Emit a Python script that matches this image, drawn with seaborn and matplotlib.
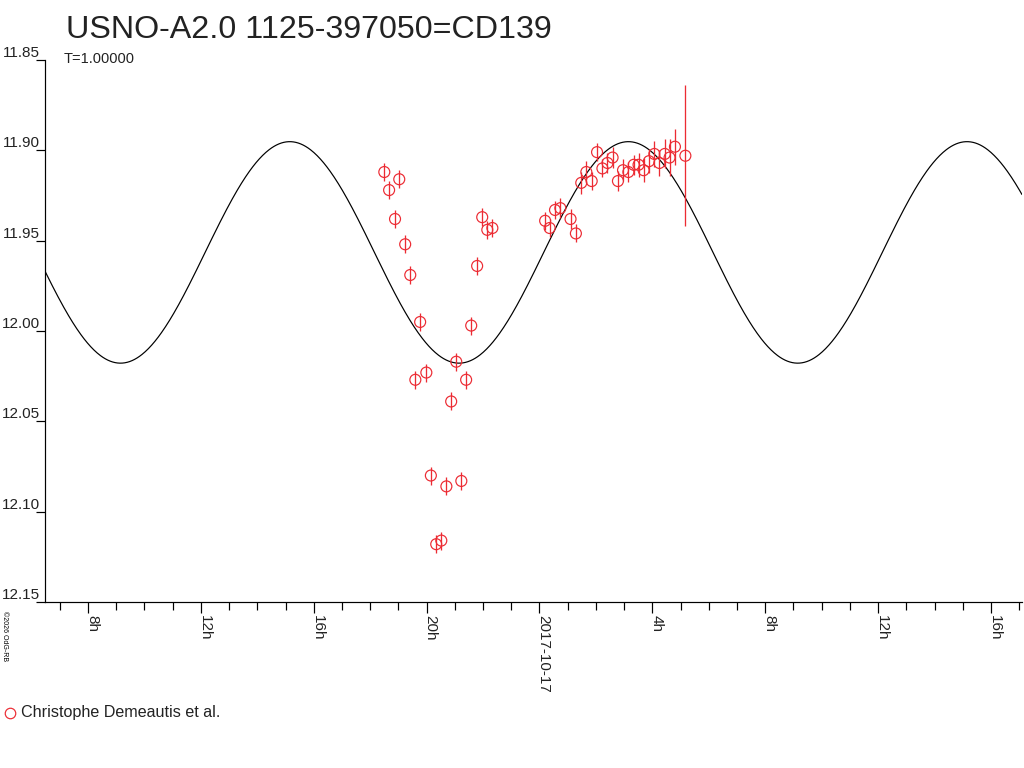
import numpy as np
import pandas as pd
import matplotlib
matplotlib.use("Agg")
import matplotlib.pyplot as plt
import matplotlib.dates as mdates
from matplotlib.ticker import FuncFormatter, FixedLocator
from matplotlib.lines import Line2D
import seaborn as sns

sns.set_theme(style="white")
plt.rcParams["font.family"] = ["Liberation Sans", "DejaVu Sans"]

TITLE = "USNO-A2.0 1125-397050=CD139"
SUBTITLE = "T=1.00000"
OBSERVER = "Christophe Demeautis et al."
COPYRIGHT = "\u00a92026 OdG-RB"
REF_DATE = "2017-10-16"

# observation times, hours since 2017-10-16 00:00 UT
obs_hours = [18.50, 18.67, 18.88, 19.03, 19.24, 19.42, 19.60, 19.77, 19.99, 20.15,
             20.34, 20.52, 20.70, 20.87, 21.05, 21.23, 21.40, 21.58, 21.79, 21.97,
             22.15, 22.33,
             24.20, 24.36, 24.55, 24.74, 25.10, 25.29, 25.48, 25.66, 25.85, 26.04,
             26.23, 26.41, 26.59, 26.78, 26.96, 27.15, 27.34, 27.51, 27.69, 27.88,
             28.07, 28.25, 28.44, 28.61, 28.80, 29.17]
obs_mag = [11.912, 11.922, 11.938, 11.916, 11.952, 11.969, 12.027, 11.995, 12.023, 12.080,
           12.118, 12.116, 12.086, 12.039, 12.017, 12.083, 12.027, 11.997, 11.964, 11.937,
           11.944, 11.943,
           11.939, 11.943, 11.933, 11.932, 11.938, 11.946, 11.918, 11.912, 11.917, 11.901,
           11.910, 11.907, 11.904, 11.917, 11.911, 11.912, 11.908, 11.908, 11.911, 11.906,
           11.902, 11.907, 11.902, 11.904, 11.898, 11.903]
obs_err = [0.005] * 22 + [0.005, 0.005, 0.005, 0.0055, 0.0055, 0.005, 0.006, 0.006, 0.005, 0.005,
                          0.005, 0.0055, 0.006, 0.0055, 0.006, 0.0055, 0.0055, 0.0065, 0.0065, 0.0065,
                          0.007, 0.007, 0.008, 0.010, 0.010, 0.039]

# fitted model (sinusoid)
PERIOD_H = 12.0
MODEL_MEAN = 11.9565
MODEL_AMP = 0.0613
MODEL_TMAX_H = 27.15

XLIM_H = [6.475, 41.1]
YTICKS = [11.85, 11.90, 11.95, 12.00, 12.05, 12.10, 12.15]

RED = "#ec2b33"
PX = 0.72  # one pixel in points

t0 = pd.Timestamp(REF_DATE)
df = pd.DataFrame({
    "time": t0 + pd.to_timedelta(obs_hours, unit="h"),
    "mag": obs_mag,
    "err": obs_err,
})
model_h = np.linspace(XLIM_H[0], XLIM_H[1], 1200)
model = pd.DataFrame({
    "time": t0 + pd.to_timedelta(model_h, unit="h"),
    "mag": MODEL_MEAN - MODEL_AMP * np.cos(2 * np.pi * (model_h - MODEL_TMAX_H) / PERIOD_H),
})

fig = plt.figure(figsize=(10.24, 7.68), dpi=100)
ax = fig.add_axes([45 / 1024, 1 - 602 / 768, (1022 - 45) / 1024, (602 - 60) / 768])
ax.set_facecolor("white")

sns.lineplot(data=model, x="time", y="mag", color="black", lw=PX * 1.2, ax=ax)
ax.vlines(df["time"], df["mag"] - df["err"], df["mag"] + df["err"], color=RED, lw=PX * 1.3)
sns.scatterplot(data=df, x="time", y="mag", marker="o", s=62, facecolors="none",
                edgecolor=RED, linewidth=PX * 1.2, ax=ax, zorder=3)

ax.set_xlim(t0 + pd.Timedelta(hours=XLIM_H[0]), t0 + pd.Timedelta(hours=XLIM_H[1]))
ax.set_ylim(YTICKS[-1], YTICKS[0])
ax.set_xlabel("")
ax.set_ylabel("")

for s in ["top", "right"]:
    ax.spines[s].set_visible(False)
for s in ["left", "bottom"]:
    ax.spines[s].set_color("black")
    ax.spines[s].set_linewidth(PX * 1.2)

ax.yaxis.set_major_locator(FixedLocator(YTICKS))
ax.yaxis.set_major_formatter(FuncFormatter(lambda v, p: f"{v:.2f}"))
ax.xaxis.set_major_locator(mdates.HourLocator(byhour=range(0, 24, 4)))
ax.xaxis.set_minor_locator(mdates.HourLocator())


def fmt_x(v, pos):
    d = mdates.num2date(v)
    if d.hour == 0:
        return d.strftime("%Y-%m-%d")
    return f"{d.hour}h"


ax.xaxis.set_major_formatter(FuncFormatter(fmt_x))

ax.tick_params(axis="y", which="major", direction="out", length=9 * PX, width=PX * 1.2,
               pad=-4 * PX, labelsize=11, colors="black", left=True)
ax.tick_params(axis="x", which="major", direction="out", length=11 * PX, width=PX * 1.2,
               pad=2 * PX, labelsize=11, colors="black", bottom=True)
ax.tick_params(axis="x", which="minor", direction="out", length=8 * PX, width=PX * 1.2,
               colors="black", bottom=True)
ax.grid(False)

fig.canvas.draw()
for lab in ax.get_xticklabels():
    lab.set_rotation(-90)
    lab.set_rotation_mode("anchor")
    lab.set_horizontalalignment("left")
    lab.set_verticalalignment("baseline")
for lab in ax.get_yticklabels():
    lab.set_verticalalignment("bottom")
    lab.set_color("#222222")
for lab in ax.get_xticklabels():
    lab.set_color("#222222")

fig.text(66 / 1024, 1 - 38 / 768, TITLE, fontsize=23.2, va="baseline", ha="left", color="#222222")
fig.text(64 / 1024, 1 - 63 / 768, SUBTITLE, fontsize=10.5, va="baseline", ha="left", color="#222222")
fig.text(1 / 1024, 1 - 611 / 768, COPYRIGHT, fontsize=5, rotation=-90, va="bottom", ha="left",
         rotation_mode="anchor", color="black")

fig.add_artist(Line2D([10 / 1024], [1 - 713 / 768], marker="o", ms=10.5 * PX, mfc="none",
                      mec=RED, mew=PX * 1.2, ls="none", transform=fig.transFigure))
fig.text(21 / 1024, 1 - 713 / 768, OBSERVER, fontsize=11.6, va="center", ha="left", color="#222222")

fig.savefig("out.png", dpi=100, facecolor="white")
